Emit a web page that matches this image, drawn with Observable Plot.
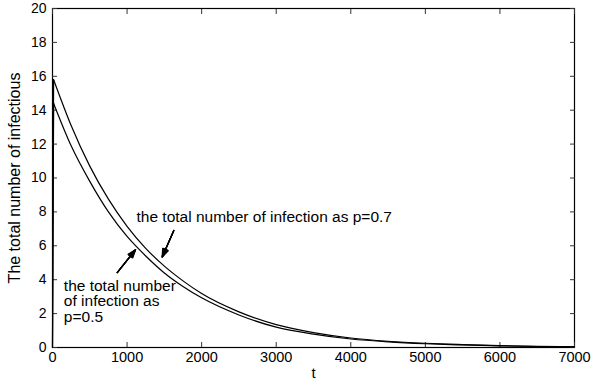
<!DOCTYPE html>
<html>
<head>
<meta charset="utf-8">
<script src="https://cdn.jsdelivr.net/npm/d3@7"></script>
<script src="https://cdn.jsdelivr.net/npm/@observablehq/plot@0.6"></script>
<style>
  html, body { margin: 0; padding: 0; background: #fff; }
  #chart svg { display: block; }
</style>
</head>
<body>
<div id="chart"></div>
<script>
// Time points (t)
const tValues = [0, 15, 250, 500, 750, 1000, 1250, 1500, 1750, 2000, 2500, 3000, 3500, 4000, 4500, 5000, 5500, 6000, 6500, 7000];
// Total number of infection, p = 0.5 (lower curve)
const infectP05 = [0, 14.4, 11.9, 9.8, 8.0, 6.55, 5.4, 4.4, 3.6, 2.93, 1.92, 1.2, 0.79, 0.5, 0.33, 0.22, 0.15, 0.1, 0.06, 0.04];
// Total number of infection, p = 0.7 (upper curve)
const infectP07 = [0, 15.8, 13.1, 10.7, 8.75, 7.15, 5.85, 4.8, 3.93, 3.18, 2.1, 1.35, 0.88, 0.56, 0.37, 0.25, 0.17, 0.11, 0.07, 0.05];

const xTicks = [0, 1000, 2000, 3000, 4000, 5000, 6000, 7000];
const yTicks = [0, 2, 4, 6, 8, 10, 12, 14, 16, 18, 20];

const xLabel = "t";
const yLabel = "The total number of infectious";
const labelP07 = "the total number of infection as p=0.7";
const labelP05 = "the total number\nof infection as\np=0.5";

// annotation anchors (data coordinates)
const annotP07 = {t: 1126, v: 7.7};
const annotP05 = {t: 152, v: 2.72};
const arrowP07 = {t1: 1627, v1: 6.9, t2: 1471, v2: 5.34};
const arrowP05 = {t1: 868, v1: 4.42, t2: 1113, v2: 5.77};

const series = [
  ...tValues.map((t, i) => ({t, v: infectP05[i], p: "0.5"})),
  ...tValues.map((t, i) => ({t, v: infectP07[i], p: "0.7"}))
];
const peakT = tValues[1];
const rise = series.filter(d => d.t <= peakT);
const decay = series.filter(d => d.t >= peakT);
const arrows = [arrowP07, arrowP05];

const font = "Liberation Sans, Arial, Helvetica, sans-serif";
const blank = () => "";

// filled-looking arrowheads: several chevrons with decreasing angle
const arrowMarks = [40, 30, 20, 10].map(a =>
  Plot.arrow(arrows, {x1: "t1", y1: "v1", x2: "t2", y2: "v2", stroke: "#000", strokeWidth: 1.3, headLength: 10, headAngle: a})
);

const chart = Plot.plot({
  width: 591,
  height: 387,
  marginLeft: 52,
  marginRight: 17,
  marginTop: 8,
  marginBottom: 40,
  style: {fontFamily: font, fontSize: "14px", color: "#000", background: "#fff"},
  x: {domain: [0, 7000], label: null},
  y: {domain: [0, 20], label: null},
  marks: [
    Plot.frame({stroke: "#000", strokeWidth: 1.2}),
    Plot.axisX({anchor: "bottom", ticks: xTicks, tickSize: -5, tickFormat: blank, label: null, stroke: "#333"}),
    Plot.axisX({anchor: "top", ticks: xTicks, tickSize: -5, tickFormat: blank, label: null, stroke: "#333"}),
    Plot.axisY({anchor: "left", ticks: yTicks, tickSize: -5, tickFormat: blank, label: null, stroke: "#333"}),
    Plot.axisY({anchor: "right", ticks: yTicks, tickSize: -5, tickFormat: blank, label: null, stroke: "#333"}),
    Plot.axisX({anchor: "bottom", ticks: xTicks, tickSize: 0, tickPadding: 4, tickFormat: d3.format("d"), fontSize: 14.5, label: null, fill: "#000"}),
    Plot.axisY({anchor: "left", ticks: yTicks, tickSize: 0, tickPadding: 6, tickFormat: d3.format("d"), fontSize: 14, label: null, fill: "#000"}),
    Plot.line(rise, {x: "t", y: "v", z: "p", stroke: "#000", strokeWidth: 1.2}),
    Plot.line(decay, {x: "t", y: "v", z: "p", curve: "monotone-x", stroke: "#000", strokeWidth: 1.2}),
    Plot.text([annotP07], {x: "t", y: "v", text: () => labelP07, textAnchor: "start", fontSize: 15.5, fill: "#000"}),
    Plot.text([annotP05], {x: "t", y: "v", text: () => labelP05, textAnchor: "start", lineAnchor: "middle", lineHeight: 1.0, fontSize: 15.5, fill: "#000"}),
    ...arrowMarks,
    Plot.text([xLabel], {frameAnchor: "bottom", dy: 30, text: d => d, fontSize: 15, fill: "#000"}),
    Plot.text([yLabel], {frameAnchor: "left", dx: -38, rotate: -90, textAnchor: "middle", text: d => d, fontSize: 16, fill: "#000"})
  ]
});

document.getElementById("chart").appendChild(chart);
</script>
</body>
</html>
